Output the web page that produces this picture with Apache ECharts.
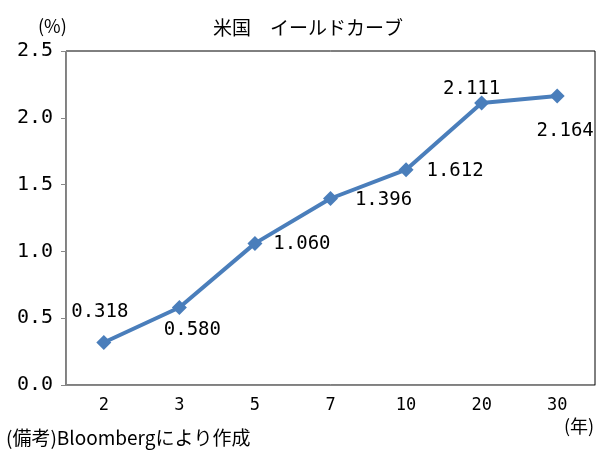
<!DOCTYPE html>
<html>
<head>
<meta charset="utf-8">
<script src="https://cdn.jsdelivr.net/npm/echarts@6/dist/echarts.min.js"></script>
<style>
    html, body { margin: 0; padding: 0; background: #fff; }
    #chart { width: 616px; height: 464px; }
</style>
</head>
<body>
<div id="chart"></div>
<script>
    // 年限
    var categories = ['2', '3', '5', '7', '10', '20', '30'];
    // 利回り(%)
    var yields = [0.318, 0.580, 1.060, 1.396, 1.612, 2.111, 2.164];

    // ラベル位置の調整 (style only)
    var labelOffsets = [[-4, -30], [13, 23], [47, 1], [53, 2], [49, 1], [-10, -14], [8, 35]];

    var numFont = '"DejaVu Sans Mono", "Noto Sans CJK JP", monospace';
    var jpFont = '"Noto Sans CJK JP", sans-serif';

    var chart = echarts.init(document.getElementById('chart'));

    var option = {
        animation: false,
        backgroundColor: '#fff',
        title: {
            text: '米国　イールドカーブ',
            left: 'center',
            top: 13,
            textStyle: {fontFamily: jpFont, fontSize: 19, fontWeight: 'normal', color: '#000'}
        },
        graphic: [
            {type: 'text', left: 38, top: 17, style: {text: '(%)', font: '18px ' + jpFont, fill: '#000'}},
            {type: 'text', left: 564, top: 417, style: {text: '(年)', font: '18px ' + jpFont, fill: '#000'}},
            {type: 'text', left: 6, top: 428, style: {text: '(備考)Bloombergにより作成', font: '19px ' + jpFont, fill: '#000'}}
        ],
        grid: {
            left: 66, top: 51, right: 21, bottom: 79,
            show: true, borderColor: '#000', borderWidth: 1
        },
        xAxis: {
            type: 'category',
            data: categories,
            boundaryGap: true,
            axisLine: {lineStyle: {color: '#888', width: 1}},
            axisTick: {show: false},
            axisLabel: {margin: 12, fontFamily: numFont, fontSize: 17, color: '#000'}
        },
        yAxis: {
            type: 'value',
            min: 0, max: 2.5, interval: 0.5,
            axisLine: {show: true, lineStyle: {color: '#888', width: 1}},
            axisTick: {show: true, length: 5, lineStyle: {color: '#888'}},
            splitLine: {show: false},
            axisLabel: {
                margin: 13, fontFamily: numFont, fontSize: 20, color: '#000',
                formatter: function (v) { return v.toFixed(1); }
            }
        },
        series: [{
            type: 'line',
            data: yields.map(function (v, i) {
                return {
                    value: v,
                    label: {position: 'inside', offset: labelOffsets[i]}
                };
            }),
            symbol: 'diamond',
            symbolSize: 15,
            lineStyle: {color: '#4a7ebb', width: 4},
            itemStyle: {color: '#4a7ebb'},
            label: {
                show: true,
                fontFamily: numFont,
                fontSize: 19,
                color: '#000',
                formatter: function (p) { return p.value.toFixed(3); }
            }
        }]
    };

    chart.setOption(option);
</script>
</body>
</html>
